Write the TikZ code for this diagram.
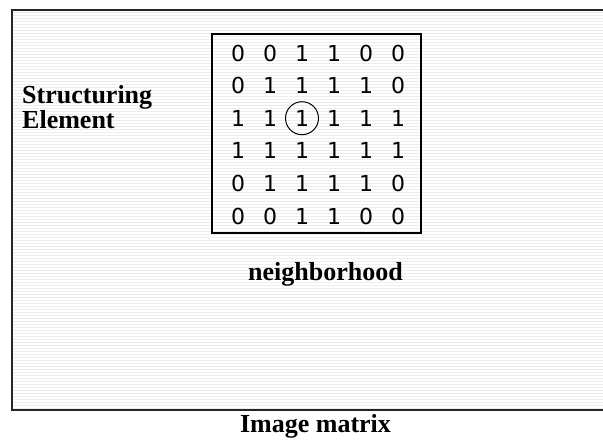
\documentclass[tikz,border=0pt]{standalone}
\usepackage{fontspec}
\setmainfont{Liberation Serif}
\newfontfamily\digitfont{DejaVu Sans}
\begin{document}
\begin{tikzpicture}[x=1pt,y=-1pt,
  label/.style={font=\fontsize{26}{26}\selectfont\bfseries, inner sep=0pt, anchor=base},
  cell/.style={font=\digitfont\fontsize{22}{22}\selectfont, inner sep=0pt},
  frame/.style={draw=black!85, line width=2pt},
  box/.style={draw=black, line width=1.4pt}]
  \useasboundingbox (0,0) rectangle (603,440);
  \begin{scope}
    \clip (0,0) rectangle (603,440);
    % striped background of the image area
    \foreach \yy in {12,15,...,408} {
      \draw[line width=1pt, black!7] (13,\yy) -- (603,\yy);
    }
    % image frame (runs past the right edge)
    \draw[frame] (12,10) rectangle (610,410);
  \end{scope}

  % neighbourhood window
  \draw[box] (212,34) rectangle (421,233);

  % matrix entries
  \foreach \rr/\vals in {0/{0,0,1,1,0,0},1/{0,1,1,1,1,0},2/{1,1,1,1,1,1},
                         3/{1,1,1,1,1,1},4/{0,1,1,1,1,0},5/{0,0,1,1,0,0}} {
    \foreach \v [count=\cc from 0] in \vals {
      \node[cell] (m\rr\cc) at (238+32*\cc, 53+32.6*\rr) {\v};
    }
  }
  % origin of the structuring element
  \draw[line width=1pt] (m22) circle (16.5);

  \node[label, anchor=base west] (se1) at (22,103) {Structuring};
  \node[label, anchor=base west] (se2) at (22,128) {Element};
  \node[label] (nb) at (325.5,280) {neighborhood};
  \node[label] (im) at (315.5,432) {Image matrix};
\end{tikzpicture}
\end{document}
